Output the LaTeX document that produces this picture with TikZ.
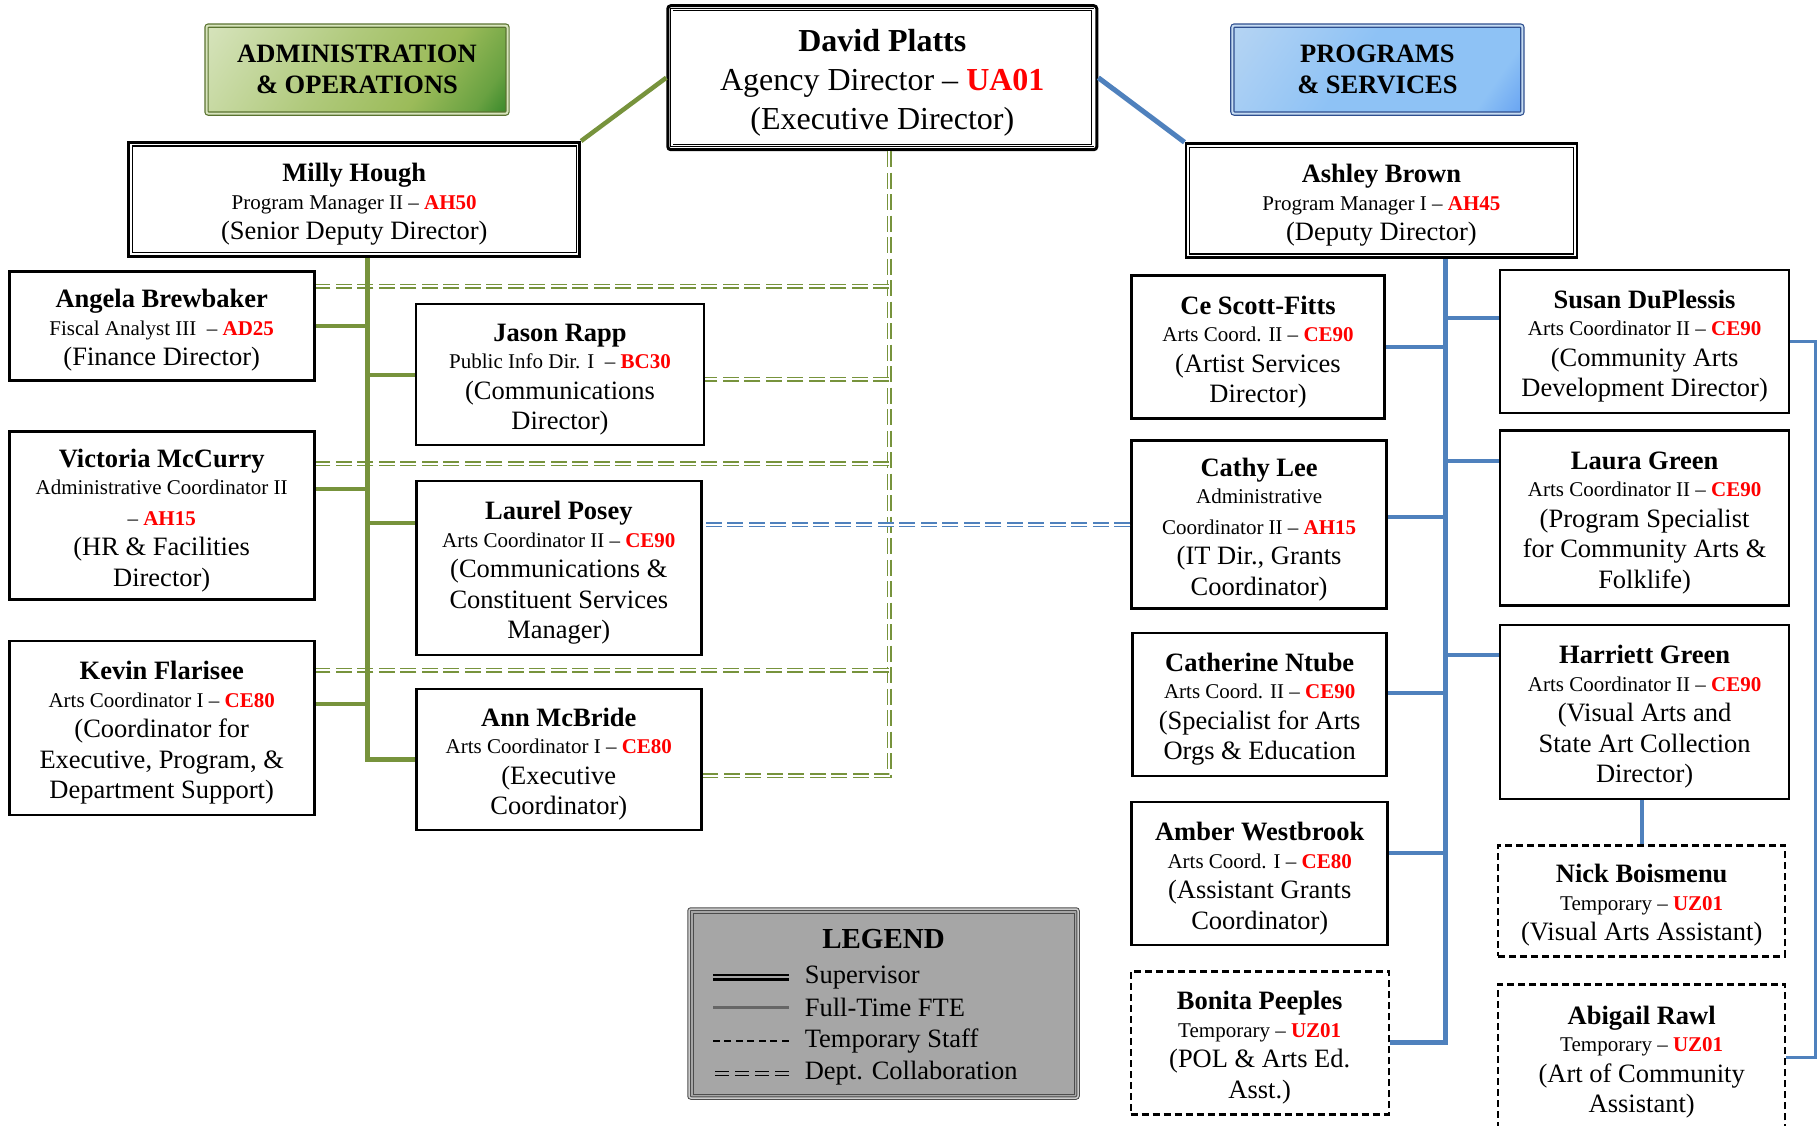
\documentclass[tikz,border=0pt]{standalone}
\usepackage{fontspec}
\setmainfont{Liberation Serif}

\definecolor{orgGreen}{HTML}{77933C}
\definecolor{orgBlue}{HTML}{4F81BD}
\definecolor{admLight}{HTML}{D7E4BD}
\definecolor{admMid}{HTML}{9BBB59}
\definecolor{admDark}{HTML}{1E7B1E}
\definecolor{admLine}{HTML}{5A7330}
\definecolor{prgLight}{HTML}{C6DCF2}
\definecolor{prgMid}{HTML}{8EC2F5}
\definecolor{prgDark}{HTML}{4A8CEF}
\definecolor{prgLine}{HTML}{2F4F8F}
\definecolor{lgdGray}{HTML}{A6A6A6}

\pgfdeclarehorizontalshading{admshade}{100bp}{color(0bp)=(admLight); color(15bp)=(admLight);
  color(45bp)=(admLight!35!admMid); color(65bp)=(admMid); color(78bp)=(admMid!60!admDark);
  color(88bp)=(admDark); color(100bp)=(admDark)}
\pgfdeclarehorizontalshading{prgshade}{100bp}{color(0bp)=(prgLight); color(20bp)=(prgLight!60!prgMid);
  color(45bp)=(prgMid); color(75bp)=(prgMid); color(92bp)=(prgDark); color(100bp)=(prgDark)}

\newcommand{\tsz}{\fontsize{21}{27}\selectfont}
\newcommand{\poscode}[1]{\textcolor{red}{\bfseries #1}}
\newcommand{\staffname}[1]{\rule{0pt}{28pt}\textbf{#1}\\[-3pt]}

\tikzset{
  staff/.style={draw, line width=2.6pt, fill=white, align=center, inner sep=2pt,
    font=\fontsize{26.5}{30.5}\selectfont},
  temp/.style={staff, line width=2.4pt, dash pattern=on 7pt off 4pt},
  lead/.style={staff, line width=2.8pt},
  exec/.style={staff, line width=3pt, rounded corners=3pt, font=\fontsize{32}{39}\selectfont},
  head/.style={rounded corners=2pt, line width=1.2pt, double distance=2pt, align=center,
    font=\bfseries\fontsize{26.5}{31}\selectfont},
  gsup/.style={draw=orgGreen, line width=4.5pt},
  gbr/.style={draw=orgGreen, line width=4pt},
  bsup/.style={draw=orgBlue, line width=5pt},
  bbr/.style={draw=orgBlue, line width=4pt},
  bfar/.style={draw=orgBlue, line width=3pt},
  gcol/.style={draw=orgGreen, line width=1.5pt, double=white, double distance=2pt,
    dash pattern=on 16pt off 5.5pt},
  bcol/.style={gcol, draw=orgBlue},
  lgdtxt/.style={anchor=west, inner sep=0pt, font=\fontsize{26.5}{30}\selectfont},
}

\begin{document}
\begin{tikzpicture}[x=1pt,y=-1pt]
\path[use as bounding box, fill=white] (0,0) rectangle (1818,1126);

%% top row
\node[head, draw=admLine, double=admLight, shading=admshade, shading angle=-35,
  minimum width=301pt, minimum height=88pt]
  (admin) at (357,69.6) {ADMINISTRATION\\\& OPERATIONS};
\node[head, draw=prgLine, double=prgLight, shading=prgshade, shading angle=-35,
  minimum width=290pt, minimum height=88pt]
  (progs) at (1377.4,69.6) {PROGRAMS\\\& SERVICES};
\node[exec, minimum width=429pt, minimum height=144pt] (david) at (882.3,77.7)
  {\rule{0pt}{32pt}\textbf{David Platts}\\Agency Director -- \poscode{UA01}\\(Executive Director)};
\draw[line width=0.9pt, double, double distance=1.4pt]
  ([shift={(5.5,5.5)}]david.north west) rectangle ([shift={(-5.5,-5.5)}]david.south east);

\node[lead, minimum width=451pt, minimum height=114pt] (milly) at (354.2,199.4)
  {\staffname{Milly Hough}{\tsz Program Manager II -- \poscode{AH50}}\\(Senior Deputy Director)};
\node[lead, minimum width=391pt, minimum height=114pt] (ashley) at (1381.4,200.6)
  {\staffname{Ashley Brown}{\tsz Program Manager I -- \poscode{AH45}}\\(Deputy Director)};
\foreach \n in {milly,ashley}
  \draw[line width=1.2pt] ([shift={(5,5)}]\n.north west) rectangle ([shift={(-5,-5)}]\n.south east);

%% administration & operations
\node[staff, minimum width=305pt, minimum height=109pt] (angela) at (161.7,325.8)
  {\staffname{Angela Brewbaker}{\tsz Fiscal Analyst III\ \ -- \poscode{AD25}}\\(Finance Director)};
\node[staff, minimum width=305pt, minimum height=168pt] (victoria) at (161.7,515.4)
  {\staffname{Victoria McCurry}{\tsz Administrative Coordinator II}\\{\tsz -- \poscode{AH15}}\\(HR \& Facilities\\Director)};
\node[staff, minimum width=305pt, minimum height=174pt] (kevin) at (161.7,728.1)
  {\staffname{Kevin Flarisee}{\tsz Arts Coordinator I -- \poscode{CE80}}\\(Coordinator for\\Executive, Program, \&\\Department Support)};
\node[staff, minimum width=288pt, minimum height=141pt] (jason) at (560,374.5)
  {\staffname{Jason Rapp}{\tsz Public Info Dir. I\ \ -- \poscode{BC30}}\\(Communications\\Director)};
\node[staff, minimum width=285pt, minimum height=174pt] (laurel) at (558.8,568.1)
  {\staffname{Laurel Posey}{\tsz Arts Coordinator II -- \poscode{CE90}}\\(Communications \&\\Constituent Services\\Manager)};
\node[staff, minimum width=285pt, minimum height=141pt] (ann) at (558.8,759.4)
  {\staffname{Ann McBride}{\tsz Arts Coordinator I -- \poscode{CE80}}\\(Executive\\Coordinator)};

%% programs & services
\node[staff, minimum width=253pt, minimum height=143pt] (ce) at (1258,347.2)
  {\staffname{Ce Scott-Fitts}{\tsz Arts Coord. II -- \poscode{CE90}}\\(Artist Services\\Director)};
\node[staff, minimum width=255pt, minimum height=168pt] (cathy) at (1259.1,524.6)
  {\staffname{Cathy Lee}{\tsz Administrative}\\{\tsz Coordinator II -- \poscode{AH15}}\\(IT Dir., Grants\\Coordinator)};
\node[staff, minimum width=254pt, minimum height=143pt] (ntube) at (1259.7,704.3)
  {\staffname{Catherine Ntube}{\tsz Arts Coord. II -- \poscode{CE90}}\\(Specialist for Arts\\Orgs \& Education};
\node[staff, minimum width=256pt, minimum height=143pt] (amber) at (1259.7,873.6)
  {\staffname{Amber Westbrook}{\tsz Arts Coord. I -- \poscode{CE80}}\\(Assistant Grants\\Coordinator)};
\node[temp, minimum width=258pt, minimum height=143pt] (bonita) at (1259.7,1042.9)
  {\staffname{Bonita Peeples}{\tsz Temporary -- \poscode{UZ01}}\\(POL \& Arts Ed.\\Asst.)};
\node[staff, minimum width=289pt, minimum height=143pt] (susan) at (1644.6,341.4)
  {\staffname{Susan DuPlessis}{\tsz Arts Coordinator II -- \poscode{CE90}}\\(Community Arts\\Development Director)};
\node[staff, minimum width=289pt, minimum height=175pt] (laura) at (1644.6,517.7)
  {\staffname{Laura Green}{\tsz Arts Coordinator II -- \poscode{CE90}}\\(Program Specialist\\for Community Arts \&\\Folklife)};
\node[staff, minimum width=289pt, minimum height=174pt] (harriett) at (1644.6,711.9)
  {\staffname{Harriett Green}{\tsz Arts Coordinator II -- \poscode{CE90}}\\(Visual Arts and\\State Art Collection\\Director)};
\node[temp, minimum width=287pt, minimum height=111pt] (nick) at (1641.7,900.8)
  {\staffname{Nick Boismenu}{\tsz Temporary -- \poscode{UZ01}}\\(Visual Arts Assistant)};
\node[temp, minimum width=287pt, minimum height=146pt] (abigail) at (1641.7,1057.4)
  {\staffname{Abigail Rawl}{\tsz Temporary -- \poscode{UZ01}}\\(Art of Community\\Assistant)};

%% trunk points
\coordinate (gx) at (367.5,0);
\coordinate (gVic) at (367.5,489.3);
\coordinate (gLau) at (367.5,522.9);
\coordinate (gKev) at (367.5,703.8);
\coordinate (bx) at (1445.8,0);
\coordinate (bSus) at (1445.8,317.7);
\coordinate (bLau) at (1445.8,461.4);
\coordinate (bCat) at (1445.8,517.1);
\coordinate (bHar) at (1445.8,655.1);
\coordinate (bNtu) at (1445.8,693.3);
\coordinate (bAmb) at (1445.8,853.3);
\coordinate (rx) at (1815.6,0);
%% collaboration points
\coordinate (cAng) at (889.3,286.4);
\coordinate (cJas) at (889.3,379.1);
\coordinate (cVic) at (889.3,463.8);
\coordinate (cKev) at (889.3,670.1);
\coordinate (cAnn) at (889.3,775.6);

%% dept. collaboration
\draw[gcol] (david.south -| cAng) -- (cAnn) -- (cAnn -| ann.east);
\draw[gcol] (cAng) -- (cAng -| angela.east);
\draw[gcol] (cJas) -- (cJas -| jason.east);
\draw[gcol] (cVic) -- (cVic -| victoria.east);
\draw[gcol] (cKev) -- (cKev -| kevin.east);
\draw[bcol] (cathy.west) -- (cathy.west -| laurel.east);

%% supervisor lines, left
\draw[gsup] (milly.north east) -- (david.west);
\draw[gsup] (milly.south -| gx) |- (ann.west);
\draw[gbr] (angela.east) -- (angela.east -| gx);
\draw[gbr] (gVic) -- (gVic -| victoria.east);
\draw[gbr] (gKev) -- (gKev -| kevin.east);
\draw[gbr] (jason.west -| gx) -- (jason.west);
\draw[gbr] (gLau) -- (gLau -| laurel.west);

%% supervisor lines, right
\draw[bsup] (david.east) -- (ashley.north west);
\draw[bsup] (ashley.south -| bx) |- (bonita.east);
\draw[bbr] (ce.east) -- (ce.east -| bx);
\draw[bbr] (bCat) -- (bCat -| cathy.east);
\draw[bbr] (bNtu) -- (bNtu -| ntube.east);
\draw[bbr] (bAmb) -- (bAmb -| amber.east);
\draw[bbr] (bSus) -- (bSus -| susan.west);
\draw[bbr] (bLau) -- (bLau -| laura.west);
\draw[bbr] (bHar) -- (bHar -| harriett.west);
\draw[bbr] (nick.north) -- (nick.north |- harriett.south);
\draw[bfar] (susan.east) -| (rx |- abigail.east) -- (abigail.east);

%% legend
\node[draw=black!70, double=black!20, line width=1pt, double distance=1.5pt, rounded corners=2pt,
  fill=lgdGray, minimum width=389pt, minimum height=189pt] (lgd) at (883.5,1003.5) {};
\draw[draw=black!70, line width=0.8pt]
  ([shift={(4.5,4.5)}]lgd.north west) rectangle ([shift={(-4.5,-4.5)}]lgd.south east);
\node[font=\bfseries\fontsize{29}{33}\selectfont] (lgdtitle) at (883.5,939.1) {LEGEND};
\node[lgdtxt] (lsup) at (804.6,977.4) {Supervisor};
\node[lgdtxt] (lfte) at (804.6,1007.4) {Full-Time FTE};
\node[lgdtxt] (ltmp) at (804.6,1041.2) {Temporary Staff};
\node[lgdtxt] (lcol) at (804.6,1073.6) {Dept. Collaboration};
\draw[draw=black, line width=2.4pt, double=lgdGray, double distance=2pt]
  ([xshift=-16pt]lsup.west) -- ++(-76,0);
\draw[draw=black!60, line width=3pt] ([xshift=-16pt]lfte.west) -- ++(-76,0);
\draw[draw=black, line width=2.4pt, dash pattern=on 7pt off 4.5pt]
  ([xshift=-16pt]ltmp.west) -- ++(-76,0);
\draw[draw=black, line width=1.4pt, double=lgdGray, double distance=2.4pt, dash pattern=on 14pt off 6pt]
  ([xshift=-16pt]lcol.west) -- ++(-74,0);
\end{tikzpicture}
\end{document}
